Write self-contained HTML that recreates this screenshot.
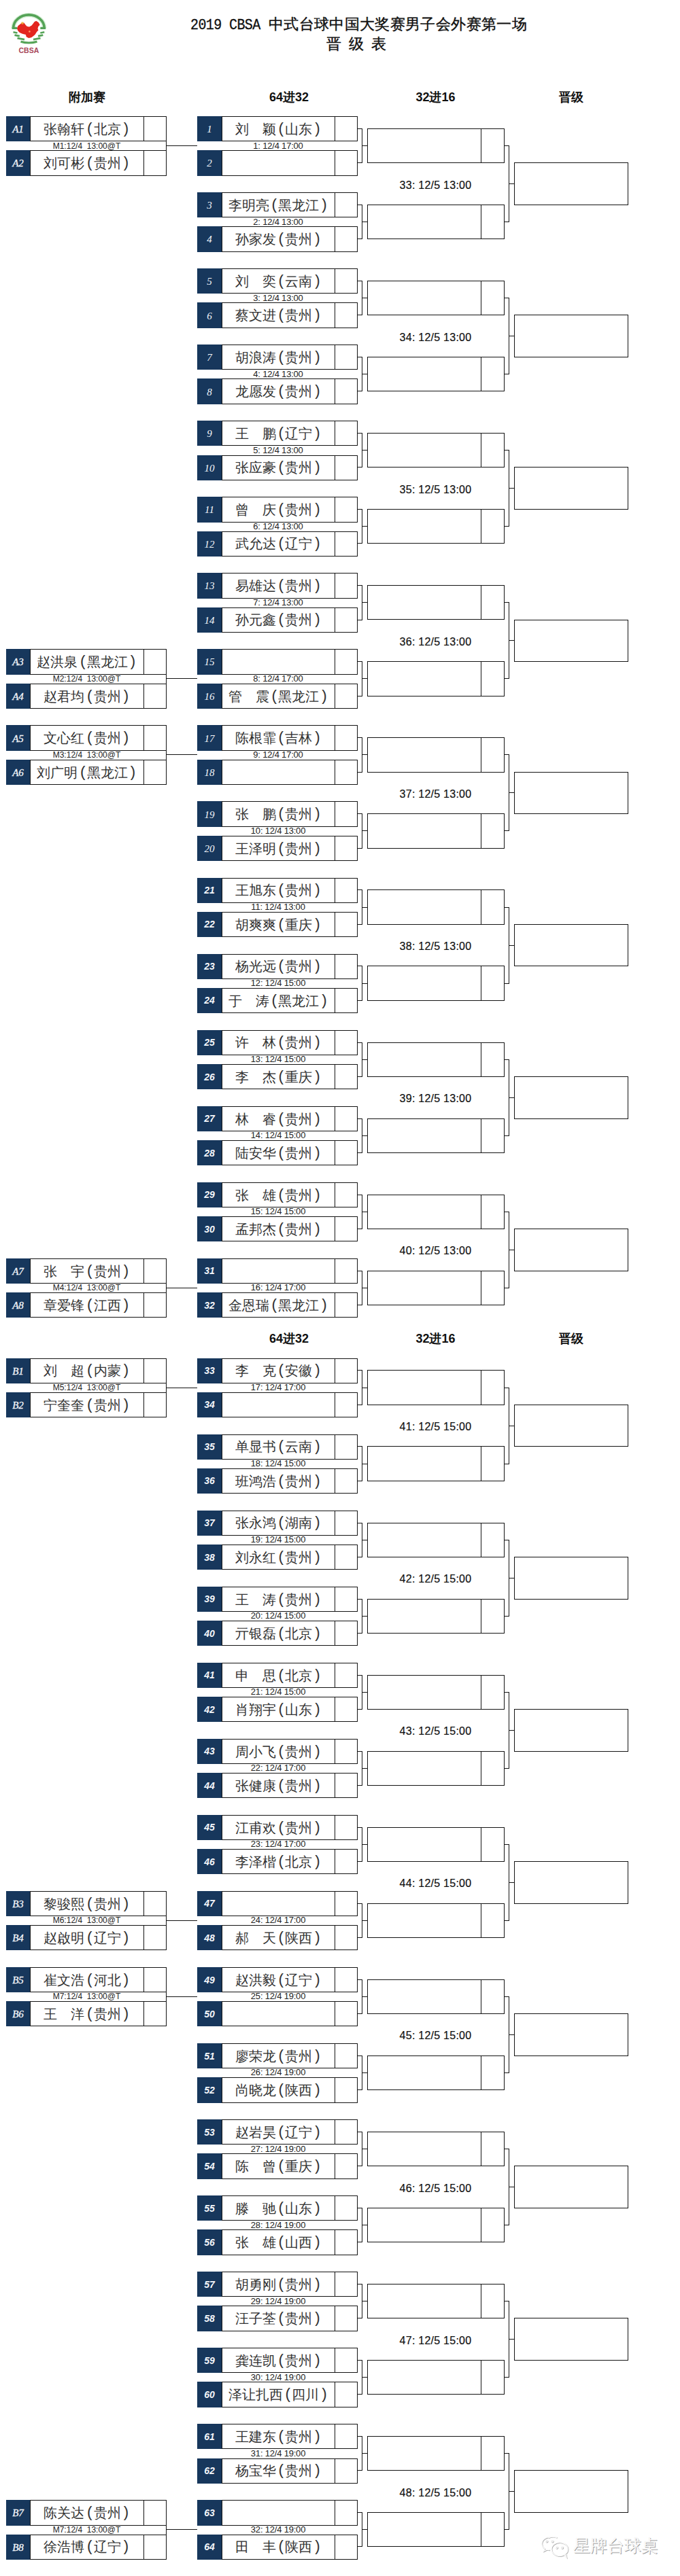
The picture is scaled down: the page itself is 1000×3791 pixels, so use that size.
<!DOCTYPE html>
<html><head><meta charset="utf-8"><title>bracket</title>
<style>
*{margin:0;padding:0}
html,body{width:1000px;height:3791px;background:#fff;overflow:hidden;position:relative}
body{font-family:"Liberation Sans",sans-serif;color:#1a1a1a}
div{position:absolute;box-sizing:border-box}
.hl{height:1px;background:#141414}
.vl{width:1px;background:#141414}
.bx{border:1px solid #141414}
.nv{background:#17375c;color:#f4f6fa;text-align:center;display:flex;align-items:center;justify-content:center}
.ls{font-family:"Liberation Serif",serif;font-style:italic;font-size:15px;padding-top:2px;-webkit-text-stroke:0.3px #f4f6fa}
.lr{font-family:"Liberation Serif",serif;font-style:italic;font-size:15px;padding-top:2px}
.lb{font-family:"Liberation Sans",sans-serif;font-style:italic;font-weight:bold;font-size:14px}
.nm{display:flex;align-items:center;justify-content:center;font-size:20px;color:#333;white-space:nowrap;padding-top:2px}
.nm i{font-style:normal;display:inline-block;text-align:center}
.nm .c{width:20px}
.nm .pl,.nm .pr{width:13.5px;font-family:"Liberation Mono",monospace;font-size:22px;position:relative}
.nm .pl{left:1.5px}.nm .pr{left:0.5px}
.hd{text-align:center;font-weight:bold;font-size:18px;line-height:22px;color:#111}
.inf{text-align:center;font-size:12px;line-height:14px;color:#222}
.i2{font-size:13px;letter-spacing:-0.2px}
.c3{text-align:center;font-size:16px;letter-spacing:0.25px;line-height:18px;color:#111;-webkit-text-stroke:0.2px #111}
.t1{left:280px;top:22px;-webkit-text-stroke:0.3px #111;font-size:22.4px;line-height:28px;white-space:nowrap;color:#111}
.t1 .lat{font-family:"Liberation Mono",monospace;font-size:20px;letter-spacing:-0.6px;display:inline-block;transform:scaleY(1.13);transform-origin:50% 70%}
.t1b{left:395px;top:22px;-webkit-text-stroke:0.4px #111;font-size:22px;letter-spacing:0.35px;line-height:28px;white-space:nowrap;color:#111}
.t2{top:51px;-webkit-text-stroke:0.4px #111;font-size:22.4px;line-height:28px;white-space:nowrap;color:#111}
.wm{font-size:25px;line-height:30px;color:#fbfbfb;text-shadow:1px 1px 0.6px #9c9c9c,-0.5px -0.5px 0.5px #dcdcdc;white-space:nowrap}
</style></head><body>
<svg width="90" height="90" viewBox="0 0 90 90" style="position:absolute;left:0;top:0">
<g>
<path d="M19.6 41.5 A22.8 19.6 0 0 1 65.2 41.5" fill="none" stroke="#d6efd6" stroke-width="6.5"/>
<g stroke="#55a357" fill="none">
<path d="M19.6 41.5 A22.8 19.6 0 0 1 65.2 41.5" stroke-width="3.6"/>
<path d="M17.6 41.4 H25.5 M59.3 41.4 H67.2" stroke-width="3.4"/>
<path d="M19.5 47.2 L25.5 48.4 M59.3 48.4 L65.3 47.2" stroke-width="2.6"/>
<path d="M21.5 51.6 L28.8 53.2 M56 53.2 L63.3 51.6" stroke-width="2.8"/>
<path d="M25.5 56.2 L36 58.2 M49 58.2 L59.5 56.2" stroke-width="2.8"/>
<path d="M30.5 61.2 Q42.4 65 54.5 61.2" stroke-width="3"/>
</g>
<path d="M25 42 L26.5 38 L29.5 35.8 L32 33.6 L35.3 33.4 L37.5 36.5 L39.6 38.7 L43 39.6 L46.5 37.5 L48.5 35 L50.7 32 L53.2 30.8 L56.7 33 L58.6 36.5 L56.2 39.2 L55.5 42 L56.4 44.5 L54 47 L51.5 51 L48.5 53.5 L46 55.2 L42.2 56 L38.7 54.2 L37.9 51 L33 49.8 L29 48 L26.5 45.5 Z" fill="#e3261f"/>
<circle cx="33" cy="34" r="2" fill="#f0c040" opacity="0.7"/>
<circle cx="43.4" cy="46.4" r="1.3" fill="#ff9a66"/>
</g>
<text x="42.4" y="78" text-anchor="middle" font-family="Liberation Sans" font-weight="bold" font-size="10.5px" fill="#a8475a">CBSA</text>
</svg>
<div class="t1"><span class="lat">2019 CBSA </span></div>
<div class="t1b">中式台球中国大奖赛男子会外赛第一场</div>
<div class="t2" style="left:480px">晋</div><div class="t2" style="left:513px">级</div><div class="t2" style="left:546px">表</div>
<div class="hd" style="left:28px;width:200px;top:131.50px">附加赛</div>
<div class="hd" style="left:325px;width:200px;top:131.50px">64进32</div>
<div class="hd" style="left:540px;width:201px;top:131.50px">32进16</div>
<div class="hd" style="left:756px;width:167px;top:131.50px">晋级</div>
<div class="nv" style="left:290.00px;top:171.00px;width:36.00px;height:37.30px"><span class="lr">1</span></div>
<div class="bx" style="left:325.50px;top:171.00px;width:200.00px;height:37.30px"></div>
<div class="vl" style="left:491.50px;top:171.00px;height:36.80px"></div>
<div class="nm" style="left:326.00px;top:171.00px;width:166.00px;height:36.80px"><i class="c">刘</i><i class="c">　</i><i class="c">颖</i><i class="pl">(</i><i class="c">山</i><i class="c">东</i><i class="pr">)</i></div>
<div class="nv" style="left:290.00px;top:221.30px;width:36.00px;height:37.30px"><span class="lr">2</span></div>
<div class="bx" style="left:325.50px;top:221.30px;width:200.00px;height:37.30px"></div>
<div class="vl" style="left:491.50px;top:221.30px;height:36.80px"></div>
<div class="nm" style="left:326.00px;top:221.30px;width:166.00px;height:36.80px"></div>
<div class="inf i2" style="left:326px;width:166px;top:207.50px">1: 12/4 17:00</div>
<div class="nv" style="left:9.00px;top:171.00px;width:35.00px;height:37.30px"><span class="ls">A1</span></div>
<div class="bx" style="left:43.50px;top:171.00px;width:201.00px;height:37.30px"></div>
<div class="vl" style="left:210.50px;top:171.00px;height:36.80px"></div>
<div class="nm" style="left:44.00px;top:171.00px;width:167.00px;height:36.80px"><i class="c">张</i><i class="c">翰</i><i class="c">轩</i><i class="pl">(</i><i class="c">北</i><i class="c">京</i><i class="pr">)</i></div>
<div class="nv" style="left:9.00px;top:221.30px;width:35.00px;height:37.30px"><span class="ls">A2</span></div>
<div class="bx" style="left:43.50px;top:221.30px;width:201.00px;height:37.30px"></div>
<div class="vl" style="left:210.50px;top:221.30px;height:36.80px"></div>
<div class="nm" style="left:44.00px;top:221.30px;width:167.00px;height:36.80px"><i class="c">刘</i><i class="c">可</i><i class="c">彬</i><i class="pl">(</i><i class="c">贵</i><i class="c">州</i><i class="pr">)</i></div>
<div class="vl" style="left:243.50px;top:207.80px;height:13.50px"></div>
<div class="hl" style="left:244.00px;top:214.00px;width:46.00px"></div>
<div class="inf" style="left:44px;width:167px;top:207.50px">M1:12/4&nbsp;&nbsp;13:00@T</div>
<div class="hl" style="left:525.00px;top:188.90px;width:7.50px"></div>
<div class="hl" style="left:525.00px;top:239.20px;width:7.50px"></div>
<div class="vl" style="left:532.00px;top:189.40px;height:50.30px"></div>
<div class="hl" style="left:532.50px;top:214.00px;width:7.50px"></div>
<div class="bx" style="left:539.5px;top:188.90px;width:202px;height:51.30px"></div>
<div class="vl" style="left:706.50px;top:189.40px;height:50.30px"></div>
<div class="nv" style="left:290.00px;top:283.05px;width:36.00px;height:37.30px"><span class="lr">3</span></div>
<div class="bx" style="left:325.50px;top:283.05px;width:200.00px;height:37.30px"></div>
<div class="vl" style="left:491.50px;top:283.05px;height:36.80px"></div>
<div class="nm" style="left:326.00px;top:283.05px;width:166.00px;height:36.80px"><i class="c">李</i><i class="c">明</i><i class="c">亮</i><i class="pl">(</i><i class="c">黑</i><i class="c">龙</i><i class="c">江</i><i class="pr">)</i></div>
<div class="nv" style="left:290.00px;top:333.35px;width:36.00px;height:37.30px"><span class="lr">4</span></div>
<div class="bx" style="left:325.50px;top:333.35px;width:200.00px;height:37.30px"></div>
<div class="vl" style="left:491.50px;top:333.35px;height:36.80px"></div>
<div class="nm" style="left:326.00px;top:333.35px;width:166.00px;height:36.80px"><i class="c">孙</i><i class="c">家</i><i class="c">发</i><i class="pl">(</i><i class="c">贵</i><i class="c">州</i><i class="pr">)</i></div>
<div class="inf i2" style="left:326px;width:166px;top:319.55px">2: 12/4 13:00</div>
<div class="hl" style="left:525.00px;top:300.95px;width:7.50px"></div>
<div class="hl" style="left:525.00px;top:351.25px;width:7.50px"></div>
<div class="vl" style="left:532.00px;top:301.45px;height:50.30px"></div>
<div class="hl" style="left:532.50px;top:326.05px;width:7.50px"></div>
<div class="bx" style="left:539.5px;top:300.95px;width:202px;height:51.30px"></div>
<div class="vl" style="left:706.50px;top:301.45px;height:50.30px"></div>
<div class="nv" style="left:290.00px;top:395.10px;width:36.00px;height:37.30px"><span class="lr">5</span></div>
<div class="bx" style="left:325.50px;top:395.10px;width:200.00px;height:37.30px"></div>
<div class="vl" style="left:491.50px;top:395.10px;height:36.80px"></div>
<div class="nm" style="left:326.00px;top:395.10px;width:166.00px;height:36.80px"><i class="c">刘</i><i class="c">　</i><i class="c">奕</i><i class="pl">(</i><i class="c">云</i><i class="c">南</i><i class="pr">)</i></div>
<div class="nv" style="left:290.00px;top:445.40px;width:36.00px;height:37.30px"><span class="lr">6</span></div>
<div class="bx" style="left:325.50px;top:445.40px;width:200.00px;height:37.30px"></div>
<div class="vl" style="left:491.50px;top:445.40px;height:36.80px"></div>
<div class="nm" style="left:326.00px;top:445.40px;width:166.00px;height:36.80px"><i class="c">蔡</i><i class="c">文</i><i class="c">进</i><i class="pl">(</i><i class="c">贵</i><i class="c">州</i><i class="pr">)</i></div>
<div class="inf i2" style="left:326px;width:166px;top:431.60px">3: 12/4 13:00</div>
<div class="hl" style="left:525.00px;top:413.00px;width:7.50px"></div>
<div class="hl" style="left:525.00px;top:463.30px;width:7.50px"></div>
<div class="vl" style="left:532.00px;top:413.50px;height:50.30px"></div>
<div class="hl" style="left:532.50px;top:438.10px;width:7.50px"></div>
<div class="bx" style="left:539.5px;top:413.00px;width:202px;height:51.30px"></div>
<div class="vl" style="left:706.50px;top:413.50px;height:50.30px"></div>
<div class="nv" style="left:290.00px;top:507.15px;width:36.00px;height:37.30px"><span class="lr">7</span></div>
<div class="bx" style="left:325.50px;top:507.15px;width:200.00px;height:37.30px"></div>
<div class="vl" style="left:491.50px;top:507.15px;height:36.80px"></div>
<div class="nm" style="left:326.00px;top:507.15px;width:166.00px;height:36.80px"><i class="c">胡</i><i class="c">浪</i><i class="c">涛</i><i class="pl">(</i><i class="c">贵</i><i class="c">州</i><i class="pr">)</i></div>
<div class="nv" style="left:290.00px;top:557.45px;width:36.00px;height:37.30px"><span class="lr">8</span></div>
<div class="bx" style="left:325.50px;top:557.45px;width:200.00px;height:37.30px"></div>
<div class="vl" style="left:491.50px;top:557.45px;height:36.80px"></div>
<div class="nm" style="left:326.00px;top:557.45px;width:166.00px;height:36.80px"><i class="c">龙</i><i class="c">愿</i><i class="c">发</i><i class="pl">(</i><i class="c">贵</i><i class="c">州</i><i class="pr">)</i></div>
<div class="inf i2" style="left:326px;width:166px;top:543.65px">4: 12/4 13:00</div>
<div class="hl" style="left:525.00px;top:525.05px;width:7.50px"></div>
<div class="hl" style="left:525.00px;top:575.35px;width:7.50px"></div>
<div class="vl" style="left:532.00px;top:525.55px;height:50.30px"></div>
<div class="hl" style="left:532.50px;top:550.15px;width:7.50px"></div>
<div class="bx" style="left:539.5px;top:525.05px;width:202px;height:51.30px"></div>
<div class="vl" style="left:706.50px;top:525.55px;height:50.30px"></div>
<div class="nv" style="left:290.00px;top:619.20px;width:36.00px;height:37.30px"><span class="lr">9</span></div>
<div class="bx" style="left:325.50px;top:619.20px;width:200.00px;height:37.30px"></div>
<div class="vl" style="left:491.50px;top:619.20px;height:36.80px"></div>
<div class="nm" style="left:326.00px;top:619.20px;width:166.00px;height:36.80px"><i class="c">王</i><i class="c">　</i><i class="c">鹏</i><i class="pl">(</i><i class="c">辽</i><i class="c">宁</i><i class="pr">)</i></div>
<div class="nv" style="left:290.00px;top:669.50px;width:36.00px;height:37.30px"><span class="lr">10</span></div>
<div class="bx" style="left:325.50px;top:669.50px;width:200.00px;height:37.30px"></div>
<div class="vl" style="left:491.50px;top:669.50px;height:36.80px"></div>
<div class="nm" style="left:326.00px;top:669.50px;width:166.00px;height:36.80px"><i class="c">张</i><i class="c">应</i><i class="c">豪</i><i class="pl">(</i><i class="c">贵</i><i class="c">州</i><i class="pr">)</i></div>
<div class="inf i2" style="left:326px;width:166px;top:655.70px">5: 12/4 13:00</div>
<div class="hl" style="left:525.00px;top:637.10px;width:7.50px"></div>
<div class="hl" style="left:525.00px;top:687.40px;width:7.50px"></div>
<div class="vl" style="left:532.00px;top:637.60px;height:50.30px"></div>
<div class="hl" style="left:532.50px;top:662.20px;width:7.50px"></div>
<div class="bx" style="left:539.5px;top:637.10px;width:202px;height:51.30px"></div>
<div class="vl" style="left:706.50px;top:637.60px;height:50.30px"></div>
<div class="nv" style="left:290.00px;top:731.25px;width:36.00px;height:37.30px"><span class="lr">11</span></div>
<div class="bx" style="left:325.50px;top:731.25px;width:200.00px;height:37.30px"></div>
<div class="vl" style="left:491.50px;top:731.25px;height:36.80px"></div>
<div class="nm" style="left:326.00px;top:731.25px;width:166.00px;height:36.80px"><i class="c">曾</i><i class="c">　</i><i class="c">庆</i><i class="pl">(</i><i class="c">贵</i><i class="c">州</i><i class="pr">)</i></div>
<div class="nv" style="left:290.00px;top:781.55px;width:36.00px;height:37.30px"><span class="lr">12</span></div>
<div class="bx" style="left:325.50px;top:781.55px;width:200.00px;height:37.30px"></div>
<div class="vl" style="left:491.50px;top:781.55px;height:36.80px"></div>
<div class="nm" style="left:326.00px;top:781.55px;width:166.00px;height:36.80px"><i class="c">武</i><i class="c">允</i><i class="c">达</i><i class="pl">(</i><i class="c">辽</i><i class="c">宁</i><i class="pr">)</i></div>
<div class="inf i2" style="left:326px;width:166px;top:767.75px">6: 12/4 13:00</div>
<div class="hl" style="left:525.00px;top:749.15px;width:7.50px"></div>
<div class="hl" style="left:525.00px;top:799.45px;width:7.50px"></div>
<div class="vl" style="left:532.00px;top:749.65px;height:50.30px"></div>
<div class="hl" style="left:532.50px;top:774.25px;width:7.50px"></div>
<div class="bx" style="left:539.5px;top:749.15px;width:202px;height:51.30px"></div>
<div class="vl" style="left:706.50px;top:749.65px;height:50.30px"></div>
<div class="nv" style="left:290.00px;top:843.30px;width:36.00px;height:37.30px"><span class="lr">13</span></div>
<div class="bx" style="left:325.50px;top:843.30px;width:200.00px;height:37.30px"></div>
<div class="vl" style="left:491.50px;top:843.30px;height:36.80px"></div>
<div class="nm" style="left:326.00px;top:843.30px;width:166.00px;height:36.80px"><i class="c">易</i><i class="c">雄</i><i class="c">达</i><i class="pl">(</i><i class="c">贵</i><i class="c">州</i><i class="pr">)</i></div>
<div class="nv" style="left:290.00px;top:893.60px;width:36.00px;height:37.30px"><span class="lr">14</span></div>
<div class="bx" style="left:325.50px;top:893.60px;width:200.00px;height:37.30px"></div>
<div class="vl" style="left:491.50px;top:893.60px;height:36.80px"></div>
<div class="nm" style="left:326.00px;top:893.60px;width:166.00px;height:36.80px"><i class="c">孙</i><i class="c">元</i><i class="c">鑫</i><i class="pl">(</i><i class="c">贵</i><i class="c">州</i><i class="pr">)</i></div>
<div class="inf i2" style="left:326px;width:166px;top:879.80px">7: 12/4 13:00</div>
<div class="hl" style="left:525.00px;top:861.20px;width:7.50px"></div>
<div class="hl" style="left:525.00px;top:911.50px;width:7.50px"></div>
<div class="vl" style="left:532.00px;top:861.70px;height:50.30px"></div>
<div class="hl" style="left:532.50px;top:886.30px;width:7.50px"></div>
<div class="bx" style="left:539.5px;top:861.20px;width:202px;height:51.30px"></div>
<div class="vl" style="left:706.50px;top:861.70px;height:50.30px"></div>
<div class="nv" style="left:290.00px;top:955.35px;width:36.00px;height:37.30px"><span class="lr">15</span></div>
<div class="bx" style="left:325.50px;top:955.35px;width:200.00px;height:37.30px"></div>
<div class="vl" style="left:491.50px;top:955.35px;height:36.80px"></div>
<div class="nm" style="left:326.00px;top:955.35px;width:166.00px;height:36.80px"></div>
<div class="nv" style="left:290.00px;top:1005.65px;width:36.00px;height:37.30px"><span class="lr">16</span></div>
<div class="bx" style="left:325.50px;top:1005.65px;width:200.00px;height:37.30px"></div>
<div class="vl" style="left:491.50px;top:1005.65px;height:36.80px"></div>
<div class="nm" style="left:326.00px;top:1005.65px;width:166.00px;height:36.80px"><i class="c">管</i><i class="c">　</i><i class="c">震</i><i class="pl">(</i><i class="c">黑</i><i class="c">龙</i><i class="c">江</i><i class="pr">)</i></div>
<div class="inf i2" style="left:326px;width:166px;top:991.85px">8: 12/4 17:00</div>
<div class="nv" style="left:9.00px;top:955.35px;width:35.00px;height:37.30px"><span class="ls">A3</span></div>
<div class="bx" style="left:43.50px;top:955.35px;width:201.00px;height:37.30px"></div>
<div class="vl" style="left:210.50px;top:955.35px;height:36.80px"></div>
<div class="nm" style="left:44.00px;top:955.35px;width:167.00px;height:36.80px"><i class="c">赵</i><i class="c">洪</i><i class="c">泉</i><i class="pl">(</i><i class="c">黑</i><i class="c">龙</i><i class="c">江</i><i class="pr">)</i></div>
<div class="nv" style="left:9.00px;top:1005.65px;width:35.00px;height:37.30px"><span class="ls">A4</span></div>
<div class="bx" style="left:43.50px;top:1005.65px;width:201.00px;height:37.30px"></div>
<div class="vl" style="left:210.50px;top:1005.65px;height:36.80px"></div>
<div class="nm" style="left:44.00px;top:1005.65px;width:167.00px;height:36.80px"><i class="c">赵</i><i class="c">君</i><i class="c">均</i><i class="pl">(</i><i class="c">贵</i><i class="c">州</i><i class="pr">)</i></div>
<div class="vl" style="left:243.50px;top:992.15px;height:13.50px"></div>
<div class="hl" style="left:244.00px;top:998.35px;width:46.00px"></div>
<div class="inf" style="left:44px;width:167px;top:991.85px">M2:12/4&nbsp;&nbsp;13:00@T</div>
<div class="hl" style="left:525.00px;top:973.25px;width:7.50px"></div>
<div class="hl" style="left:525.00px;top:1023.55px;width:7.50px"></div>
<div class="vl" style="left:532.00px;top:973.75px;height:50.30px"></div>
<div class="hl" style="left:532.50px;top:998.35px;width:7.50px"></div>
<div class="bx" style="left:539.5px;top:973.25px;width:202px;height:51.30px"></div>
<div class="vl" style="left:706.50px;top:973.75px;height:50.30px"></div>
<div class="nv" style="left:290.00px;top:1067.40px;width:36.00px;height:37.30px"><span class="lr">17</span></div>
<div class="bx" style="left:325.50px;top:1067.40px;width:200.00px;height:37.30px"></div>
<div class="vl" style="left:491.50px;top:1067.40px;height:36.80px"></div>
<div class="nm" style="left:326.00px;top:1067.40px;width:166.00px;height:36.80px"><i class="c">陈</i><i class="c">根</i><i class="c">霏</i><i class="pl">(</i><i class="c">吉</i><i class="c">林</i><i class="pr">)</i></div>
<div class="nv" style="left:290.00px;top:1117.70px;width:36.00px;height:37.30px"><span class="lr">18</span></div>
<div class="bx" style="left:325.50px;top:1117.70px;width:200.00px;height:37.30px"></div>
<div class="vl" style="left:491.50px;top:1117.70px;height:36.80px"></div>
<div class="nm" style="left:326.00px;top:1117.70px;width:166.00px;height:36.80px"></div>
<div class="inf i2" style="left:326px;width:166px;top:1103.90px">9: 12/4 17:00</div>
<div class="nv" style="left:9.00px;top:1067.40px;width:35.00px;height:37.30px"><span class="ls">A5</span></div>
<div class="bx" style="left:43.50px;top:1067.40px;width:201.00px;height:37.30px"></div>
<div class="vl" style="left:210.50px;top:1067.40px;height:36.80px"></div>
<div class="nm" style="left:44.00px;top:1067.40px;width:167.00px;height:36.80px"><i class="c">文</i><i class="c">心</i><i class="c">红</i><i class="pl">(</i><i class="c">贵</i><i class="c">州</i><i class="pr">)</i></div>
<div class="nv" style="left:9.00px;top:1117.70px;width:35.00px;height:37.30px"><span class="ls">A6</span></div>
<div class="bx" style="left:43.50px;top:1117.70px;width:201.00px;height:37.30px"></div>
<div class="vl" style="left:210.50px;top:1117.70px;height:36.80px"></div>
<div class="nm" style="left:44.00px;top:1117.70px;width:167.00px;height:36.80px"><i class="c">刘</i><i class="c">广</i><i class="c">明</i><i class="pl">(</i><i class="c">黑</i><i class="c">龙</i><i class="c">江</i><i class="pr">)</i></div>
<div class="vl" style="left:243.50px;top:1104.20px;height:13.50px"></div>
<div class="hl" style="left:244.00px;top:1110.40px;width:46.00px"></div>
<div class="inf" style="left:44px;width:167px;top:1103.90px">M3:12/4&nbsp;&nbsp;13:00@T</div>
<div class="hl" style="left:525.00px;top:1085.30px;width:7.50px"></div>
<div class="hl" style="left:525.00px;top:1135.60px;width:7.50px"></div>
<div class="vl" style="left:532.00px;top:1085.80px;height:50.30px"></div>
<div class="hl" style="left:532.50px;top:1110.40px;width:7.50px"></div>
<div class="bx" style="left:539.5px;top:1085.30px;width:202px;height:51.30px"></div>
<div class="vl" style="left:706.50px;top:1085.80px;height:50.30px"></div>
<div class="nv" style="left:290.00px;top:1179.45px;width:36.00px;height:37.30px"><span class="lr">19</span></div>
<div class="bx" style="left:325.50px;top:1179.45px;width:200.00px;height:37.30px"></div>
<div class="vl" style="left:491.50px;top:1179.45px;height:36.80px"></div>
<div class="nm" style="left:326.00px;top:1179.45px;width:166.00px;height:36.80px"><i class="c">张</i><i class="c">　</i><i class="c">鹏</i><i class="pl">(</i><i class="c">贵</i><i class="c">州</i><i class="pr">)</i></div>
<div class="nv" style="left:290.00px;top:1229.75px;width:36.00px;height:37.30px"><span class="lr">20</span></div>
<div class="bx" style="left:325.50px;top:1229.75px;width:200.00px;height:37.30px"></div>
<div class="vl" style="left:491.50px;top:1229.75px;height:36.80px"></div>
<div class="nm" style="left:326.00px;top:1229.75px;width:166.00px;height:36.80px"><i class="c">王</i><i class="c">泽</i><i class="c">明</i><i class="pl">(</i><i class="c">贵</i><i class="c">州</i><i class="pr">)</i></div>
<div class="inf i2" style="left:326px;width:166px;top:1215.95px">10: 12/4 13:00</div>
<div class="hl" style="left:525.00px;top:1197.35px;width:7.50px"></div>
<div class="hl" style="left:525.00px;top:1247.65px;width:7.50px"></div>
<div class="vl" style="left:532.00px;top:1197.85px;height:50.30px"></div>
<div class="hl" style="left:532.50px;top:1222.45px;width:7.50px"></div>
<div class="bx" style="left:539.5px;top:1197.35px;width:202px;height:51.30px"></div>
<div class="vl" style="left:706.50px;top:1197.85px;height:50.30px"></div>
<div class="nv" style="left:290.00px;top:1291.50px;width:36.00px;height:37.30px"><span class="lb">21</span></div>
<div class="bx" style="left:325.50px;top:1291.50px;width:200.00px;height:37.30px"></div>
<div class="vl" style="left:491.50px;top:1291.50px;height:36.80px"></div>
<div class="nm" style="left:326.00px;top:1291.50px;width:166.00px;height:36.80px"><i class="c">王</i><i class="c">旭</i><i class="c">东</i><i class="pl">(</i><i class="c">贵</i><i class="c">州</i><i class="pr">)</i></div>
<div class="nv" style="left:290.00px;top:1341.80px;width:36.00px;height:37.30px"><span class="lb">22</span></div>
<div class="bx" style="left:325.50px;top:1341.80px;width:200.00px;height:37.30px"></div>
<div class="vl" style="left:491.50px;top:1341.80px;height:36.80px"></div>
<div class="nm" style="left:326.00px;top:1341.80px;width:166.00px;height:36.80px"><i class="c">胡</i><i class="c">爽</i><i class="c">爽</i><i class="pl">(</i><i class="c">重</i><i class="c">庆</i><i class="pr">)</i></div>
<div class="inf i2" style="left:326px;width:166px;top:1328.00px">11: 12/4 13:00</div>
<div class="hl" style="left:525.00px;top:1309.40px;width:7.50px"></div>
<div class="hl" style="left:525.00px;top:1359.70px;width:7.50px"></div>
<div class="vl" style="left:532.00px;top:1309.90px;height:50.30px"></div>
<div class="hl" style="left:532.50px;top:1334.50px;width:7.50px"></div>
<div class="bx" style="left:539.5px;top:1309.40px;width:202px;height:51.30px"></div>
<div class="vl" style="left:706.50px;top:1309.90px;height:50.30px"></div>
<div class="nv" style="left:290.00px;top:1403.55px;width:36.00px;height:37.30px"><span class="lb">23</span></div>
<div class="bx" style="left:325.50px;top:1403.55px;width:200.00px;height:37.30px"></div>
<div class="vl" style="left:491.50px;top:1403.55px;height:36.80px"></div>
<div class="nm" style="left:326.00px;top:1403.55px;width:166.00px;height:36.80px"><i class="c">杨</i><i class="c">光</i><i class="c">远</i><i class="pl">(</i><i class="c">贵</i><i class="c">州</i><i class="pr">)</i></div>
<div class="nv" style="left:290.00px;top:1453.85px;width:36.00px;height:37.30px"><span class="lb">24</span></div>
<div class="bx" style="left:325.50px;top:1453.85px;width:200.00px;height:37.30px"></div>
<div class="vl" style="left:491.50px;top:1453.85px;height:36.80px"></div>
<div class="nm" style="left:326.00px;top:1453.85px;width:166.00px;height:36.80px"><i class="c">于</i><i class="c">　</i><i class="c">涛</i><i class="pl">(</i><i class="c">黑</i><i class="c">龙</i><i class="c">江</i><i class="pr">)</i></div>
<div class="inf i2" style="left:326px;width:166px;top:1440.05px">12: 12/4 15:00</div>
<div class="hl" style="left:525.00px;top:1421.45px;width:7.50px"></div>
<div class="hl" style="left:525.00px;top:1471.75px;width:7.50px"></div>
<div class="vl" style="left:532.00px;top:1421.95px;height:50.30px"></div>
<div class="hl" style="left:532.50px;top:1446.55px;width:7.50px"></div>
<div class="bx" style="left:539.5px;top:1421.45px;width:202px;height:51.30px"></div>
<div class="vl" style="left:706.50px;top:1421.95px;height:50.30px"></div>
<div class="nv" style="left:290.00px;top:1515.60px;width:36.00px;height:37.30px"><span class="lb">25</span></div>
<div class="bx" style="left:325.50px;top:1515.60px;width:200.00px;height:37.30px"></div>
<div class="vl" style="left:491.50px;top:1515.60px;height:36.80px"></div>
<div class="nm" style="left:326.00px;top:1515.60px;width:166.00px;height:36.80px"><i class="c">许</i><i class="c">　</i><i class="c">林</i><i class="pl">(</i><i class="c">贵</i><i class="c">州</i><i class="pr">)</i></div>
<div class="nv" style="left:290.00px;top:1565.90px;width:36.00px;height:37.30px"><span class="lb">26</span></div>
<div class="bx" style="left:325.50px;top:1565.90px;width:200.00px;height:37.30px"></div>
<div class="vl" style="left:491.50px;top:1565.90px;height:36.80px"></div>
<div class="nm" style="left:326.00px;top:1565.90px;width:166.00px;height:36.80px"><i class="c">李</i><i class="c">　</i><i class="c">杰</i><i class="pl">(</i><i class="c">重</i><i class="c">庆</i><i class="pr">)</i></div>
<div class="inf i2" style="left:326px;width:166px;top:1552.10px">13: 12/4 15:00</div>
<div class="hl" style="left:525.00px;top:1533.50px;width:7.50px"></div>
<div class="hl" style="left:525.00px;top:1583.80px;width:7.50px"></div>
<div class="vl" style="left:532.00px;top:1534.00px;height:50.30px"></div>
<div class="hl" style="left:532.50px;top:1558.60px;width:7.50px"></div>
<div class="bx" style="left:539.5px;top:1533.50px;width:202px;height:51.30px"></div>
<div class="vl" style="left:706.50px;top:1534.00px;height:50.30px"></div>
<div class="nv" style="left:290.00px;top:1627.65px;width:36.00px;height:37.30px"><span class="lb">27</span></div>
<div class="bx" style="left:325.50px;top:1627.65px;width:200.00px;height:37.30px"></div>
<div class="vl" style="left:491.50px;top:1627.65px;height:36.80px"></div>
<div class="nm" style="left:326.00px;top:1627.65px;width:166.00px;height:36.80px"><i class="c">林</i><i class="c">　</i><i class="c">睿</i><i class="pl">(</i><i class="c">贵</i><i class="c">州</i><i class="pr">)</i></div>
<div class="nv" style="left:290.00px;top:1677.95px;width:36.00px;height:37.30px"><span class="lb">28</span></div>
<div class="bx" style="left:325.50px;top:1677.95px;width:200.00px;height:37.30px"></div>
<div class="vl" style="left:491.50px;top:1677.95px;height:36.80px"></div>
<div class="nm" style="left:326.00px;top:1677.95px;width:166.00px;height:36.80px"><i class="c">陆</i><i class="c">安</i><i class="c">华</i><i class="pl">(</i><i class="c">贵</i><i class="c">州</i><i class="pr">)</i></div>
<div class="inf i2" style="left:326px;width:166px;top:1664.15px">14: 12/4 15:00</div>
<div class="hl" style="left:525.00px;top:1645.55px;width:7.50px"></div>
<div class="hl" style="left:525.00px;top:1695.85px;width:7.50px"></div>
<div class="vl" style="left:532.00px;top:1646.05px;height:50.30px"></div>
<div class="hl" style="left:532.50px;top:1670.65px;width:7.50px"></div>
<div class="bx" style="left:539.5px;top:1645.55px;width:202px;height:51.30px"></div>
<div class="vl" style="left:706.50px;top:1646.05px;height:50.30px"></div>
<div class="nv" style="left:290.00px;top:1739.70px;width:36.00px;height:37.30px"><span class="lb">29</span></div>
<div class="bx" style="left:325.50px;top:1739.70px;width:200.00px;height:37.30px"></div>
<div class="vl" style="left:491.50px;top:1739.70px;height:36.80px"></div>
<div class="nm" style="left:326.00px;top:1739.70px;width:166.00px;height:36.80px"><i class="c">张</i><i class="c">　</i><i class="c">雄</i><i class="pl">(</i><i class="c">贵</i><i class="c">州</i><i class="pr">)</i></div>
<div class="nv" style="left:290.00px;top:1790.00px;width:36.00px;height:37.30px"><span class="lb">30</span></div>
<div class="bx" style="left:325.50px;top:1790.00px;width:200.00px;height:37.30px"></div>
<div class="vl" style="left:491.50px;top:1790.00px;height:36.80px"></div>
<div class="nm" style="left:326.00px;top:1790.00px;width:166.00px;height:36.80px"><i class="c">孟</i><i class="c">邦</i><i class="c">杰</i><i class="pl">(</i><i class="c">贵</i><i class="c">州</i><i class="pr">)</i></div>
<div class="inf i2" style="left:326px;width:166px;top:1776.20px">15: 12/4 15:00</div>
<div class="hl" style="left:525.00px;top:1757.60px;width:7.50px"></div>
<div class="hl" style="left:525.00px;top:1807.90px;width:7.50px"></div>
<div class="vl" style="left:532.00px;top:1758.10px;height:50.30px"></div>
<div class="hl" style="left:532.50px;top:1782.70px;width:7.50px"></div>
<div class="bx" style="left:539.5px;top:1757.60px;width:202px;height:51.30px"></div>
<div class="vl" style="left:706.50px;top:1758.10px;height:50.30px"></div>
<div class="nv" style="left:290.00px;top:1851.75px;width:36.00px;height:37.30px"><span class="lb">31</span></div>
<div class="bx" style="left:325.50px;top:1851.75px;width:200.00px;height:37.30px"></div>
<div class="vl" style="left:491.50px;top:1851.75px;height:36.80px"></div>
<div class="nm" style="left:326.00px;top:1851.75px;width:166.00px;height:36.80px"></div>
<div class="nv" style="left:290.00px;top:1902.05px;width:36.00px;height:37.30px"><span class="lb">32</span></div>
<div class="bx" style="left:325.50px;top:1902.05px;width:200.00px;height:37.30px"></div>
<div class="vl" style="left:491.50px;top:1902.05px;height:36.80px"></div>
<div class="nm" style="left:326.00px;top:1902.05px;width:166.00px;height:36.80px"><i class="c">金</i><i class="c">恩</i><i class="c">瑞</i><i class="pl">(</i><i class="c">黑</i><i class="c">龙</i><i class="c">江</i><i class="pr">)</i></div>
<div class="inf i2" style="left:326px;width:166px;top:1888.25px">16: 12/4 17:00</div>
<div class="nv" style="left:9.00px;top:1851.75px;width:35.00px;height:37.30px"><span class="ls">A7</span></div>
<div class="bx" style="left:43.50px;top:1851.75px;width:201.00px;height:37.30px"></div>
<div class="vl" style="left:210.50px;top:1851.75px;height:36.80px"></div>
<div class="nm" style="left:44.00px;top:1851.75px;width:167.00px;height:36.80px"><i class="c">张</i><i class="c">　</i><i class="c">宇</i><i class="pl">(</i><i class="c">贵</i><i class="c">州</i><i class="pr">)</i></div>
<div class="nv" style="left:9.00px;top:1902.05px;width:35.00px;height:37.30px"><span class="ls">A8</span></div>
<div class="bx" style="left:43.50px;top:1902.05px;width:201.00px;height:37.30px"></div>
<div class="vl" style="left:210.50px;top:1902.05px;height:36.80px"></div>
<div class="nm" style="left:44.00px;top:1902.05px;width:167.00px;height:36.80px"><i class="c">章</i><i class="c">爱</i><i class="c">锋</i><i class="pl">(</i><i class="c">江</i><i class="c">西</i><i class="pr">)</i></div>
<div class="vl" style="left:243.50px;top:1888.55px;height:13.50px"></div>
<div class="hl" style="left:244.00px;top:1894.75px;width:46.00px"></div>
<div class="inf" style="left:44px;width:167px;top:1888.25px">M4:12/4&nbsp;&nbsp;13:00@T</div>
<div class="hl" style="left:525.00px;top:1869.65px;width:7.50px"></div>
<div class="hl" style="left:525.00px;top:1919.95px;width:7.50px"></div>
<div class="vl" style="left:532.00px;top:1870.15px;height:50.30px"></div>
<div class="hl" style="left:532.50px;top:1894.75px;width:7.50px"></div>
<div class="bx" style="left:539.5px;top:1869.65px;width:202px;height:51.30px"></div>
<div class="vl" style="left:706.50px;top:1870.15px;height:50.30px"></div>
<div class="hl" style="left:741.00px;top:214.00px;width:7.50px"></div>
<div class="hl" style="left:741.00px;top:326.05px;width:7.50px"></div>
<div class="vl" style="left:748.00px;top:214.50px;height:112.05px"></div>
<div class="hl" style="left:748.50px;top:270.02px;width:7.50px"></div>
<div class="bx" style="left:755.5px;top:239.20px;width:168px;height:62.75px"></div>
<div class="c3" style="left:540px;width:201px;top:263.52px">33: 12/5 13:00</div>
<div class="hl" style="left:741.00px;top:438.10px;width:7.50px"></div>
<div class="hl" style="left:741.00px;top:550.15px;width:7.50px"></div>
<div class="vl" style="left:748.00px;top:438.60px;height:112.05px"></div>
<div class="hl" style="left:748.50px;top:494.12px;width:7.50px"></div>
<div class="bx" style="left:755.5px;top:463.30px;width:168px;height:62.75px"></div>
<div class="c3" style="left:540px;width:201px;top:487.62px">34: 12/5 13:00</div>
<div class="hl" style="left:741.00px;top:662.20px;width:7.50px"></div>
<div class="hl" style="left:741.00px;top:774.25px;width:7.50px"></div>
<div class="vl" style="left:748.00px;top:662.70px;height:112.05px"></div>
<div class="hl" style="left:748.50px;top:718.23px;width:7.50px"></div>
<div class="bx" style="left:755.5px;top:687.40px;width:168px;height:62.75px"></div>
<div class="c3" style="left:540px;width:201px;top:711.73px">35: 12/5 13:00</div>
<div class="hl" style="left:741.00px;top:886.30px;width:7.50px"></div>
<div class="hl" style="left:741.00px;top:998.35px;width:7.50px"></div>
<div class="vl" style="left:748.00px;top:886.80px;height:112.05px"></div>
<div class="hl" style="left:748.50px;top:942.33px;width:7.50px"></div>
<div class="bx" style="left:755.5px;top:911.50px;width:168px;height:62.75px"></div>
<div class="c3" style="left:540px;width:201px;top:935.83px">36: 12/5 13:00</div>
<div class="hl" style="left:741.00px;top:1110.40px;width:7.50px"></div>
<div class="hl" style="left:741.00px;top:1222.45px;width:7.50px"></div>
<div class="vl" style="left:748.00px;top:1110.90px;height:112.05px"></div>
<div class="hl" style="left:748.50px;top:1166.42px;width:7.50px"></div>
<div class="bx" style="left:755.5px;top:1135.60px;width:168px;height:62.75px"></div>
<div class="c3" style="left:540px;width:201px;top:1159.92px">37: 12/5 13:00</div>
<div class="hl" style="left:741.00px;top:1334.50px;width:7.50px"></div>
<div class="hl" style="left:741.00px;top:1446.55px;width:7.50px"></div>
<div class="vl" style="left:748.00px;top:1335.00px;height:112.05px"></div>
<div class="hl" style="left:748.50px;top:1390.53px;width:7.50px"></div>
<div class="bx" style="left:755.5px;top:1359.70px;width:168px;height:62.75px"></div>
<div class="c3" style="left:540px;width:201px;top:1384.03px">38: 12/5 13:00</div>
<div class="hl" style="left:741.00px;top:1558.60px;width:7.50px"></div>
<div class="hl" style="left:741.00px;top:1670.65px;width:7.50px"></div>
<div class="vl" style="left:748.00px;top:1559.10px;height:112.05px"></div>
<div class="hl" style="left:748.50px;top:1614.62px;width:7.50px"></div>
<div class="bx" style="left:755.5px;top:1583.80px;width:168px;height:62.75px"></div>
<div class="c3" style="left:540px;width:201px;top:1608.12px">39: 12/5 13:00</div>
<div class="hl" style="left:741.00px;top:1782.70px;width:7.50px"></div>
<div class="hl" style="left:741.00px;top:1894.75px;width:7.50px"></div>
<div class="vl" style="left:748.00px;top:1783.20px;height:112.05px"></div>
<div class="hl" style="left:748.50px;top:1838.72px;width:7.50px"></div>
<div class="bx" style="left:755.5px;top:1807.90px;width:168px;height:62.75px"></div>
<div class="c3" style="left:540px;width:201px;top:1832.22px">40: 12/5 13:00</div>
<div class="hd" style="left:325px;width:200px;top:1959.00px">64进32</div>
<div class="hd" style="left:540px;width:201px;top:1959.00px">32进16</div>
<div class="hd" style="left:756px;width:167px;top:1959.00px">晋级</div>
<div class="nv" style="left:290.00px;top:1998.50px;width:36.00px;height:37.30px"><span class="lb">33</span></div>
<div class="bx" style="left:325.50px;top:1998.50px;width:200.00px;height:37.30px"></div>
<div class="vl" style="left:491.50px;top:1998.50px;height:36.80px"></div>
<div class="nm" style="left:326.00px;top:1998.50px;width:166.00px;height:36.80px"><i class="c">李</i><i class="c">　</i><i class="c">克</i><i class="pl">(</i><i class="c">安</i><i class="c">徽</i><i class="pr">)</i></div>
<div class="nv" style="left:290.00px;top:2048.80px;width:36.00px;height:37.30px"><span class="lb">34</span></div>
<div class="bx" style="left:325.50px;top:2048.80px;width:200.00px;height:37.30px"></div>
<div class="vl" style="left:491.50px;top:2048.80px;height:36.80px"></div>
<div class="nm" style="left:326.00px;top:2048.80px;width:166.00px;height:36.80px"></div>
<div class="inf i2" style="left:326px;width:166px;top:2035.00px">17: 12/4 17:00</div>
<div class="nv" style="left:9.00px;top:1998.50px;width:35.00px;height:37.30px"><span class="ls">B1</span></div>
<div class="bx" style="left:43.50px;top:1998.50px;width:201.00px;height:37.30px"></div>
<div class="vl" style="left:210.50px;top:1998.50px;height:36.80px"></div>
<div class="nm" style="left:44.00px;top:1998.50px;width:167.00px;height:36.80px"><i class="c">刘</i><i class="c">　</i><i class="c">超</i><i class="pl">(</i><i class="c">内</i><i class="c">蒙</i><i class="pr">)</i></div>
<div class="nv" style="left:9.00px;top:2048.80px;width:35.00px;height:37.30px"><span class="ls">B2</span></div>
<div class="bx" style="left:43.50px;top:2048.80px;width:201.00px;height:37.30px"></div>
<div class="vl" style="left:210.50px;top:2048.80px;height:36.80px"></div>
<div class="nm" style="left:44.00px;top:2048.80px;width:167.00px;height:36.80px"><i class="c">宁</i><i class="c">奎</i><i class="c">奎</i><i class="pl">(</i><i class="c">贵</i><i class="c">州</i><i class="pr">)</i></div>
<div class="vl" style="left:243.50px;top:2035.30px;height:13.50px"></div>
<div class="hl" style="left:244.00px;top:2041.50px;width:46.00px"></div>
<div class="inf" style="left:44px;width:167px;top:2035.00px">M5:12/4&nbsp;&nbsp;13:00@T</div>
<div class="hl" style="left:525.00px;top:2016.40px;width:7.50px"></div>
<div class="hl" style="left:525.00px;top:2066.70px;width:7.50px"></div>
<div class="vl" style="left:532.00px;top:2016.90px;height:50.30px"></div>
<div class="hl" style="left:532.50px;top:2041.50px;width:7.50px"></div>
<div class="bx" style="left:539.5px;top:2016.40px;width:202px;height:51.30px"></div>
<div class="vl" style="left:706.50px;top:2016.90px;height:50.30px"></div>
<div class="nv" style="left:290.00px;top:2110.55px;width:36.00px;height:37.30px"><span class="lb">35</span></div>
<div class="bx" style="left:325.50px;top:2110.55px;width:200.00px;height:37.30px"></div>
<div class="vl" style="left:491.50px;top:2110.55px;height:36.80px"></div>
<div class="nm" style="left:326.00px;top:2110.55px;width:166.00px;height:36.80px"><i class="c">单</i><i class="c">显</i><i class="c">书</i><i class="pl">(</i><i class="c">云</i><i class="c">南</i><i class="pr">)</i></div>
<div class="nv" style="left:290.00px;top:2160.85px;width:36.00px;height:37.30px"><span class="lb">36</span></div>
<div class="bx" style="left:325.50px;top:2160.85px;width:200.00px;height:37.30px"></div>
<div class="vl" style="left:491.50px;top:2160.85px;height:36.80px"></div>
<div class="nm" style="left:326.00px;top:2160.85px;width:166.00px;height:36.80px"><i class="c">班</i><i class="c">鸿</i><i class="c">浩</i><i class="pl">(</i><i class="c">贵</i><i class="c">州</i><i class="pr">)</i></div>
<div class="inf i2" style="left:326px;width:166px;top:2147.05px">18: 12/4 15:00</div>
<div class="hl" style="left:525.00px;top:2128.45px;width:7.50px"></div>
<div class="hl" style="left:525.00px;top:2178.75px;width:7.50px"></div>
<div class="vl" style="left:532.00px;top:2128.95px;height:50.30px"></div>
<div class="hl" style="left:532.50px;top:2153.55px;width:7.50px"></div>
<div class="bx" style="left:539.5px;top:2128.45px;width:202px;height:51.30px"></div>
<div class="vl" style="left:706.50px;top:2128.95px;height:50.30px"></div>
<div class="nv" style="left:290.00px;top:2222.60px;width:36.00px;height:37.30px"><span class="lb">37</span></div>
<div class="bx" style="left:325.50px;top:2222.60px;width:200.00px;height:37.30px"></div>
<div class="vl" style="left:491.50px;top:2222.60px;height:36.80px"></div>
<div class="nm" style="left:326.00px;top:2222.60px;width:166.00px;height:36.80px"><i class="c">张</i><i class="c">永</i><i class="c">鸿</i><i class="pl">(</i><i class="c">湖</i><i class="c">南</i><i class="pr">)</i></div>
<div class="nv" style="left:290.00px;top:2272.90px;width:36.00px;height:37.30px"><span class="lb">38</span></div>
<div class="bx" style="left:325.50px;top:2272.90px;width:200.00px;height:37.30px"></div>
<div class="vl" style="left:491.50px;top:2272.90px;height:36.80px"></div>
<div class="nm" style="left:326.00px;top:2272.90px;width:166.00px;height:36.80px"><i class="c">刘</i><i class="c">永</i><i class="c">红</i><i class="pl">(</i><i class="c">贵</i><i class="c">州</i><i class="pr">)</i></div>
<div class="inf i2" style="left:326px;width:166px;top:2259.10px">19: 12/4 15:00</div>
<div class="hl" style="left:525.00px;top:2240.50px;width:7.50px"></div>
<div class="hl" style="left:525.00px;top:2290.80px;width:7.50px"></div>
<div class="vl" style="left:532.00px;top:2241.00px;height:50.30px"></div>
<div class="hl" style="left:532.50px;top:2265.60px;width:7.50px"></div>
<div class="bx" style="left:539.5px;top:2240.50px;width:202px;height:51.30px"></div>
<div class="vl" style="left:706.50px;top:2241.00px;height:50.30px"></div>
<div class="nv" style="left:290.00px;top:2334.65px;width:36.00px;height:37.30px"><span class="lb">39</span></div>
<div class="bx" style="left:325.50px;top:2334.65px;width:200.00px;height:37.30px"></div>
<div class="vl" style="left:491.50px;top:2334.65px;height:36.80px"></div>
<div class="nm" style="left:326.00px;top:2334.65px;width:166.00px;height:36.80px"><i class="c">王</i><i class="c">　</i><i class="c">涛</i><i class="pl">(</i><i class="c">贵</i><i class="c">州</i><i class="pr">)</i></div>
<div class="nv" style="left:290.00px;top:2384.95px;width:36.00px;height:37.30px"><span class="lb">40</span></div>
<div class="bx" style="left:325.50px;top:2384.95px;width:200.00px;height:37.30px"></div>
<div class="vl" style="left:491.50px;top:2384.95px;height:36.80px"></div>
<div class="nm" style="left:326.00px;top:2384.95px;width:166.00px;height:36.80px"><i class="c">亓</i><i class="c">银</i><i class="c">磊</i><i class="pl">(</i><i class="c">北</i><i class="c">京</i><i class="pr">)</i></div>
<div class="inf i2" style="left:326px;width:166px;top:2371.15px">20: 12/4 15:00</div>
<div class="hl" style="left:525.00px;top:2352.55px;width:7.50px"></div>
<div class="hl" style="left:525.00px;top:2402.85px;width:7.50px"></div>
<div class="vl" style="left:532.00px;top:2353.05px;height:50.30px"></div>
<div class="hl" style="left:532.50px;top:2377.65px;width:7.50px"></div>
<div class="bx" style="left:539.5px;top:2352.55px;width:202px;height:51.30px"></div>
<div class="vl" style="left:706.50px;top:2353.05px;height:50.30px"></div>
<div class="nv" style="left:290.00px;top:2446.70px;width:36.00px;height:37.30px"><span class="lb">41</span></div>
<div class="bx" style="left:325.50px;top:2446.70px;width:200.00px;height:37.30px"></div>
<div class="vl" style="left:491.50px;top:2446.70px;height:36.80px"></div>
<div class="nm" style="left:326.00px;top:2446.70px;width:166.00px;height:36.80px"><i class="c">申</i><i class="c">　</i><i class="c">思</i><i class="pl">(</i><i class="c">北</i><i class="c">京</i><i class="pr">)</i></div>
<div class="nv" style="left:290.00px;top:2497.00px;width:36.00px;height:37.30px"><span class="lb">42</span></div>
<div class="bx" style="left:325.50px;top:2497.00px;width:200.00px;height:37.30px"></div>
<div class="vl" style="left:491.50px;top:2497.00px;height:36.80px"></div>
<div class="nm" style="left:326.00px;top:2497.00px;width:166.00px;height:36.80px"><i class="c">肖</i><i class="c">翔</i><i class="c">宇</i><i class="pl">(</i><i class="c">山</i><i class="c">东</i><i class="pr">)</i></div>
<div class="inf i2" style="left:326px;width:166px;top:2483.20px">21: 12/4 15:00</div>
<div class="hl" style="left:525.00px;top:2464.60px;width:7.50px"></div>
<div class="hl" style="left:525.00px;top:2514.90px;width:7.50px"></div>
<div class="vl" style="left:532.00px;top:2465.10px;height:50.30px"></div>
<div class="hl" style="left:532.50px;top:2489.70px;width:7.50px"></div>
<div class="bx" style="left:539.5px;top:2464.60px;width:202px;height:51.30px"></div>
<div class="vl" style="left:706.50px;top:2465.10px;height:50.30px"></div>
<div class="nv" style="left:290.00px;top:2558.75px;width:36.00px;height:37.30px"><span class="lb">43</span></div>
<div class="bx" style="left:325.50px;top:2558.75px;width:200.00px;height:37.30px"></div>
<div class="vl" style="left:491.50px;top:2558.75px;height:36.80px"></div>
<div class="nm" style="left:326.00px;top:2558.75px;width:166.00px;height:36.80px"><i class="c">周</i><i class="c">小</i><i class="c">飞</i><i class="pl">(</i><i class="c">贵</i><i class="c">州</i><i class="pr">)</i></div>
<div class="nv" style="left:290.00px;top:2609.05px;width:36.00px;height:37.30px"><span class="lb">44</span></div>
<div class="bx" style="left:325.50px;top:2609.05px;width:200.00px;height:37.30px"></div>
<div class="vl" style="left:491.50px;top:2609.05px;height:36.80px"></div>
<div class="nm" style="left:326.00px;top:2609.05px;width:166.00px;height:36.80px"><i class="c">张</i><i class="c">健</i><i class="c">康</i><i class="pl">(</i><i class="c">贵</i><i class="c">州</i><i class="pr">)</i></div>
<div class="inf i2" style="left:326px;width:166px;top:2595.25px">22: 12/4 17:00</div>
<div class="hl" style="left:525.00px;top:2576.65px;width:7.50px"></div>
<div class="hl" style="left:525.00px;top:2626.95px;width:7.50px"></div>
<div class="vl" style="left:532.00px;top:2577.15px;height:50.30px"></div>
<div class="hl" style="left:532.50px;top:2601.75px;width:7.50px"></div>
<div class="bx" style="left:539.5px;top:2576.65px;width:202px;height:51.30px"></div>
<div class="vl" style="left:706.50px;top:2577.15px;height:50.30px"></div>
<div class="nv" style="left:290.00px;top:2670.80px;width:36.00px;height:37.30px"><span class="lb">45</span></div>
<div class="bx" style="left:325.50px;top:2670.80px;width:200.00px;height:37.30px"></div>
<div class="vl" style="left:491.50px;top:2670.80px;height:36.80px"></div>
<div class="nm" style="left:326.00px;top:2670.80px;width:166.00px;height:36.80px"><i class="c">江</i><i class="c">甫</i><i class="c">欢</i><i class="pl">(</i><i class="c">贵</i><i class="c">州</i><i class="pr">)</i></div>
<div class="nv" style="left:290.00px;top:2721.10px;width:36.00px;height:37.30px"><span class="lb">46</span></div>
<div class="bx" style="left:325.50px;top:2721.10px;width:200.00px;height:37.30px"></div>
<div class="vl" style="left:491.50px;top:2721.10px;height:36.80px"></div>
<div class="nm" style="left:326.00px;top:2721.10px;width:166.00px;height:36.80px"><i class="c">李</i><i class="c">泽</i><i class="c">楷</i><i class="pl">(</i><i class="c">北</i><i class="c">京</i><i class="pr">)</i></div>
<div class="inf i2" style="left:326px;width:166px;top:2707.30px">23: 12/4 17:00</div>
<div class="hl" style="left:525.00px;top:2688.70px;width:7.50px"></div>
<div class="hl" style="left:525.00px;top:2739.00px;width:7.50px"></div>
<div class="vl" style="left:532.00px;top:2689.20px;height:50.30px"></div>
<div class="hl" style="left:532.50px;top:2713.80px;width:7.50px"></div>
<div class="bx" style="left:539.5px;top:2688.70px;width:202px;height:51.30px"></div>
<div class="vl" style="left:706.50px;top:2689.20px;height:50.30px"></div>
<div class="nv" style="left:290.00px;top:2782.85px;width:36.00px;height:37.30px"><span class="lb">47</span></div>
<div class="bx" style="left:325.50px;top:2782.85px;width:200.00px;height:37.30px"></div>
<div class="vl" style="left:491.50px;top:2782.85px;height:36.80px"></div>
<div class="nm" style="left:326.00px;top:2782.85px;width:166.00px;height:36.80px"></div>
<div class="nv" style="left:290.00px;top:2833.15px;width:36.00px;height:37.30px"><span class="lb">48</span></div>
<div class="bx" style="left:325.50px;top:2833.15px;width:200.00px;height:37.30px"></div>
<div class="vl" style="left:491.50px;top:2833.15px;height:36.80px"></div>
<div class="nm" style="left:326.00px;top:2833.15px;width:166.00px;height:36.80px"><i class="c">郝</i><i class="c">　</i><i class="c">天</i><i class="pl">(</i><i class="c">陕</i><i class="c">西</i><i class="pr">)</i></div>
<div class="inf i2" style="left:326px;width:166px;top:2819.35px">24: 12/4 17:00</div>
<div class="nv" style="left:9.00px;top:2782.85px;width:35.00px;height:37.30px"><span class="ls">B3</span></div>
<div class="bx" style="left:43.50px;top:2782.85px;width:201.00px;height:37.30px"></div>
<div class="vl" style="left:210.50px;top:2782.85px;height:36.80px"></div>
<div class="nm" style="left:44.00px;top:2782.85px;width:167.00px;height:36.80px"><i class="c">黎</i><i class="c">骏</i><i class="c">熙</i><i class="pl">(</i><i class="c">贵</i><i class="c">州</i><i class="pr">)</i></div>
<div class="nv" style="left:9.00px;top:2833.15px;width:35.00px;height:37.30px"><span class="ls">B4</span></div>
<div class="bx" style="left:43.50px;top:2833.15px;width:201.00px;height:37.30px"></div>
<div class="vl" style="left:210.50px;top:2833.15px;height:36.80px"></div>
<div class="nm" style="left:44.00px;top:2833.15px;width:167.00px;height:36.80px"><i class="c">赵</i><i class="c">啟</i><i class="c">明</i><i class="pl">(</i><i class="c">辽</i><i class="c">宁</i><i class="pr">)</i></div>
<div class="vl" style="left:243.50px;top:2819.65px;height:13.50px"></div>
<div class="hl" style="left:244.00px;top:2825.85px;width:46.00px"></div>
<div class="inf" style="left:44px;width:167px;top:2819.35px">M6:12/4&nbsp;&nbsp;13:00@T</div>
<div class="hl" style="left:525.00px;top:2800.75px;width:7.50px"></div>
<div class="hl" style="left:525.00px;top:2851.05px;width:7.50px"></div>
<div class="vl" style="left:532.00px;top:2801.25px;height:50.30px"></div>
<div class="hl" style="left:532.50px;top:2825.85px;width:7.50px"></div>
<div class="bx" style="left:539.5px;top:2800.75px;width:202px;height:51.30px"></div>
<div class="vl" style="left:706.50px;top:2801.25px;height:50.30px"></div>
<div class="nv" style="left:290.00px;top:2894.90px;width:36.00px;height:37.30px"><span class="lb">49</span></div>
<div class="bx" style="left:325.50px;top:2894.90px;width:200.00px;height:37.30px"></div>
<div class="vl" style="left:491.50px;top:2894.90px;height:36.80px"></div>
<div class="nm" style="left:326.00px;top:2894.90px;width:166.00px;height:36.80px"><i class="c">赵</i><i class="c">洪</i><i class="c">毅</i><i class="pl">(</i><i class="c">辽</i><i class="c">宁</i><i class="pr">)</i></div>
<div class="nv" style="left:290.00px;top:2945.20px;width:36.00px;height:37.30px"><span class="lb">50</span></div>
<div class="bx" style="left:325.50px;top:2945.20px;width:200.00px;height:37.30px"></div>
<div class="vl" style="left:491.50px;top:2945.20px;height:36.80px"></div>
<div class="nm" style="left:326.00px;top:2945.20px;width:166.00px;height:36.80px"></div>
<div class="inf i2" style="left:326px;width:166px;top:2931.40px">25: 12/4 19:00</div>
<div class="nv" style="left:9.00px;top:2894.90px;width:35.00px;height:37.30px"><span class="ls">B5</span></div>
<div class="bx" style="left:43.50px;top:2894.90px;width:201.00px;height:37.30px"></div>
<div class="vl" style="left:210.50px;top:2894.90px;height:36.80px"></div>
<div class="nm" style="left:44.00px;top:2894.90px;width:167.00px;height:36.80px"><i class="c">崔</i><i class="c">文</i><i class="c">浩</i><i class="pl">(</i><i class="c">河</i><i class="c">北</i><i class="pr">)</i></div>
<div class="nv" style="left:9.00px;top:2945.20px;width:35.00px;height:37.30px"><span class="ls">B6</span></div>
<div class="bx" style="left:43.50px;top:2945.20px;width:201.00px;height:37.30px"></div>
<div class="vl" style="left:210.50px;top:2945.20px;height:36.80px"></div>
<div class="nm" style="left:44.00px;top:2945.20px;width:167.00px;height:36.80px"><i class="c">王</i><i class="c">　</i><i class="c">洋</i><i class="pl">(</i><i class="c">贵</i><i class="c">州</i><i class="pr">)</i></div>
<div class="vl" style="left:243.50px;top:2931.70px;height:13.50px"></div>
<div class="hl" style="left:244.00px;top:2937.90px;width:46.00px"></div>
<div class="inf" style="left:44px;width:167px;top:2931.40px">M7:12/4&nbsp;&nbsp;13:00@T</div>
<div class="hl" style="left:525.00px;top:2912.80px;width:7.50px"></div>
<div class="hl" style="left:525.00px;top:2963.10px;width:7.50px"></div>
<div class="vl" style="left:532.00px;top:2913.30px;height:50.30px"></div>
<div class="hl" style="left:532.50px;top:2937.90px;width:7.50px"></div>
<div class="bx" style="left:539.5px;top:2912.80px;width:202px;height:51.30px"></div>
<div class="vl" style="left:706.50px;top:2913.30px;height:50.30px"></div>
<div class="nv" style="left:290.00px;top:3006.95px;width:36.00px;height:37.30px"><span class="lb">51</span></div>
<div class="bx" style="left:325.50px;top:3006.95px;width:200.00px;height:37.30px"></div>
<div class="vl" style="left:491.50px;top:3006.95px;height:36.80px"></div>
<div class="nm" style="left:326.00px;top:3006.95px;width:166.00px;height:36.80px"><i class="c">廖</i><i class="c">荣</i><i class="c">龙</i><i class="pl">(</i><i class="c">贵</i><i class="c">州</i><i class="pr">)</i></div>
<div class="nv" style="left:290.00px;top:3057.25px;width:36.00px;height:37.30px"><span class="lb">52</span></div>
<div class="bx" style="left:325.50px;top:3057.25px;width:200.00px;height:37.30px"></div>
<div class="vl" style="left:491.50px;top:3057.25px;height:36.80px"></div>
<div class="nm" style="left:326.00px;top:3057.25px;width:166.00px;height:36.80px"><i class="c">尚</i><i class="c">晓</i><i class="c">龙</i><i class="pl">(</i><i class="c">陕</i><i class="c">西</i><i class="pr">)</i></div>
<div class="inf i2" style="left:326px;width:166px;top:3043.45px">26: 12/4 19:00</div>
<div class="hl" style="left:525.00px;top:3024.85px;width:7.50px"></div>
<div class="hl" style="left:525.00px;top:3075.15px;width:7.50px"></div>
<div class="vl" style="left:532.00px;top:3025.35px;height:50.30px"></div>
<div class="hl" style="left:532.50px;top:3049.95px;width:7.50px"></div>
<div class="bx" style="left:539.5px;top:3024.85px;width:202px;height:51.30px"></div>
<div class="vl" style="left:706.50px;top:3025.35px;height:50.30px"></div>
<div class="nv" style="left:290.00px;top:3119.00px;width:36.00px;height:37.30px"><span class="lb">53</span></div>
<div class="bx" style="left:325.50px;top:3119.00px;width:200.00px;height:37.30px"></div>
<div class="vl" style="left:491.50px;top:3119.00px;height:36.80px"></div>
<div class="nm" style="left:326.00px;top:3119.00px;width:166.00px;height:36.80px"><i class="c">赵</i><i class="c">岩</i><i class="c">昊</i><i class="pl">(</i><i class="c">辽</i><i class="c">宁</i><i class="pr">)</i></div>
<div class="nv" style="left:290.00px;top:3169.30px;width:36.00px;height:37.30px"><span class="lb">54</span></div>
<div class="bx" style="left:325.50px;top:3169.30px;width:200.00px;height:37.30px"></div>
<div class="vl" style="left:491.50px;top:3169.30px;height:36.80px"></div>
<div class="nm" style="left:326.00px;top:3169.30px;width:166.00px;height:36.80px"><i class="c">陈</i><i class="c">　</i><i class="c">曾</i><i class="pl">(</i><i class="c">重</i><i class="c">庆</i><i class="pr">)</i></div>
<div class="inf i2" style="left:326px;width:166px;top:3155.50px">27: 12/4 19:00</div>
<div class="hl" style="left:525.00px;top:3136.90px;width:7.50px"></div>
<div class="hl" style="left:525.00px;top:3187.20px;width:7.50px"></div>
<div class="vl" style="left:532.00px;top:3137.40px;height:50.30px"></div>
<div class="hl" style="left:532.50px;top:3162.00px;width:7.50px"></div>
<div class="bx" style="left:539.5px;top:3136.90px;width:202px;height:51.30px"></div>
<div class="vl" style="left:706.50px;top:3137.40px;height:50.30px"></div>
<div class="nv" style="left:290.00px;top:3231.05px;width:36.00px;height:37.30px"><span class="lb">55</span></div>
<div class="bx" style="left:325.50px;top:3231.05px;width:200.00px;height:37.30px"></div>
<div class="vl" style="left:491.50px;top:3231.05px;height:36.80px"></div>
<div class="nm" style="left:326.00px;top:3231.05px;width:166.00px;height:36.80px"><i class="c">滕</i><i class="c">　</i><i class="c">驰</i><i class="pl">(</i><i class="c">山</i><i class="c">东</i><i class="pr">)</i></div>
<div class="nv" style="left:290.00px;top:3281.35px;width:36.00px;height:37.30px"><span class="lb">56</span></div>
<div class="bx" style="left:325.50px;top:3281.35px;width:200.00px;height:37.30px"></div>
<div class="vl" style="left:491.50px;top:3281.35px;height:36.80px"></div>
<div class="nm" style="left:326.00px;top:3281.35px;width:166.00px;height:36.80px"><i class="c">张</i><i class="c">　</i><i class="c">雄</i><i class="pl">(</i><i class="c">山</i><i class="c">西</i><i class="pr">)</i></div>
<div class="inf i2" style="left:326px;width:166px;top:3267.55px">28: 12/4 19:00</div>
<div class="hl" style="left:525.00px;top:3248.95px;width:7.50px"></div>
<div class="hl" style="left:525.00px;top:3299.25px;width:7.50px"></div>
<div class="vl" style="left:532.00px;top:3249.45px;height:50.30px"></div>
<div class="hl" style="left:532.50px;top:3274.05px;width:7.50px"></div>
<div class="bx" style="left:539.5px;top:3248.95px;width:202px;height:51.30px"></div>
<div class="vl" style="left:706.50px;top:3249.45px;height:50.30px"></div>
<div class="nv" style="left:290.00px;top:3343.10px;width:36.00px;height:37.30px"><span class="lb">57</span></div>
<div class="bx" style="left:325.50px;top:3343.10px;width:200.00px;height:37.30px"></div>
<div class="vl" style="left:491.50px;top:3343.10px;height:36.80px"></div>
<div class="nm" style="left:326.00px;top:3343.10px;width:166.00px;height:36.80px"><i class="c">胡</i><i class="c">勇</i><i class="c">刚</i><i class="pl">(</i><i class="c">贵</i><i class="c">州</i><i class="pr">)</i></div>
<div class="nv" style="left:290.00px;top:3393.40px;width:36.00px;height:37.30px"><span class="lb">58</span></div>
<div class="bx" style="left:325.50px;top:3393.40px;width:200.00px;height:37.30px"></div>
<div class="vl" style="left:491.50px;top:3393.40px;height:36.80px"></div>
<div class="nm" style="left:326.00px;top:3393.40px;width:166.00px;height:36.80px"><i class="c">汪</i><i class="c">子</i><i class="c">荃</i><i class="pl">(</i><i class="c">贵</i><i class="c">州</i><i class="pr">)</i></div>
<div class="inf i2" style="left:326px;width:166px;top:3379.60px">29: 12/4 19:00</div>
<div class="hl" style="left:525.00px;top:3361.00px;width:7.50px"></div>
<div class="hl" style="left:525.00px;top:3411.30px;width:7.50px"></div>
<div class="vl" style="left:532.00px;top:3361.50px;height:50.30px"></div>
<div class="hl" style="left:532.50px;top:3386.10px;width:7.50px"></div>
<div class="bx" style="left:539.5px;top:3361.00px;width:202px;height:51.30px"></div>
<div class="vl" style="left:706.50px;top:3361.50px;height:50.30px"></div>
<div class="nv" style="left:290.00px;top:3455.15px;width:36.00px;height:37.30px"><span class="lb">59</span></div>
<div class="bx" style="left:325.50px;top:3455.15px;width:200.00px;height:37.30px"></div>
<div class="vl" style="left:491.50px;top:3455.15px;height:36.80px"></div>
<div class="nm" style="left:326.00px;top:3455.15px;width:166.00px;height:36.80px"><i class="c">龚</i><i class="c">连</i><i class="c">凯</i><i class="pl">(</i><i class="c">贵</i><i class="c">州</i><i class="pr">)</i></div>
<div class="nv" style="left:290.00px;top:3505.45px;width:36.00px;height:37.30px"><span class="lb">60</span></div>
<div class="bx" style="left:325.50px;top:3505.45px;width:200.00px;height:37.30px"></div>
<div class="vl" style="left:491.50px;top:3505.45px;height:36.80px"></div>
<div class="nm" style="left:326.00px;top:3505.45px;width:166.00px;height:36.80px"><i class="c">泽</i><i class="c">让</i><i class="c">扎</i><i class="c">西</i><i class="pl">(</i><i class="c">四</i><i class="c">川</i><i class="pr">)</i></div>
<div class="inf i2" style="left:326px;width:166px;top:3491.65px">30: 12/4 19:00</div>
<div class="hl" style="left:525.00px;top:3473.05px;width:7.50px"></div>
<div class="hl" style="left:525.00px;top:3523.35px;width:7.50px"></div>
<div class="vl" style="left:532.00px;top:3473.55px;height:50.30px"></div>
<div class="hl" style="left:532.50px;top:3498.15px;width:7.50px"></div>
<div class="bx" style="left:539.5px;top:3473.05px;width:202px;height:51.30px"></div>
<div class="vl" style="left:706.50px;top:3473.55px;height:50.30px"></div>
<div class="nv" style="left:290.00px;top:3567.20px;width:36.00px;height:37.30px"><span class="lb">61</span></div>
<div class="bx" style="left:325.50px;top:3567.20px;width:200.00px;height:37.30px"></div>
<div class="vl" style="left:491.50px;top:3567.20px;height:36.80px"></div>
<div class="nm" style="left:326.00px;top:3567.20px;width:166.00px;height:36.80px"><i class="c">王</i><i class="c">建</i><i class="c">东</i><i class="pl">(</i><i class="c">贵</i><i class="c">州</i><i class="pr">)</i></div>
<div class="nv" style="left:290.00px;top:3617.50px;width:36.00px;height:37.30px"><span class="lb">62</span></div>
<div class="bx" style="left:325.50px;top:3617.50px;width:200.00px;height:37.30px"></div>
<div class="vl" style="left:491.50px;top:3617.50px;height:36.80px"></div>
<div class="nm" style="left:326.00px;top:3617.50px;width:166.00px;height:36.80px"><i class="c">杨</i><i class="c">宝</i><i class="c">华</i><i class="pl">(</i><i class="c">贵</i><i class="c">州</i><i class="pr">)</i></div>
<div class="inf i2" style="left:326px;width:166px;top:3603.70px">31: 12/4 19:00</div>
<div class="hl" style="left:525.00px;top:3585.10px;width:7.50px"></div>
<div class="hl" style="left:525.00px;top:3635.40px;width:7.50px"></div>
<div class="vl" style="left:532.00px;top:3585.60px;height:50.30px"></div>
<div class="hl" style="left:532.50px;top:3610.20px;width:7.50px"></div>
<div class="bx" style="left:539.5px;top:3585.10px;width:202px;height:51.30px"></div>
<div class="vl" style="left:706.50px;top:3585.60px;height:50.30px"></div>
<div class="nv" style="left:290.00px;top:3679.25px;width:36.00px;height:37.30px"><span class="lb">63</span></div>
<div class="bx" style="left:325.50px;top:3679.25px;width:200.00px;height:37.30px"></div>
<div class="vl" style="left:491.50px;top:3679.25px;height:36.80px"></div>
<div class="nm" style="left:326.00px;top:3679.25px;width:166.00px;height:36.80px"></div>
<div class="nv" style="left:290.00px;top:3729.55px;width:36.00px;height:37.30px"><span class="lb">64</span></div>
<div class="bx" style="left:325.50px;top:3729.55px;width:200.00px;height:37.30px"></div>
<div class="vl" style="left:491.50px;top:3729.55px;height:36.80px"></div>
<div class="nm" style="left:326.00px;top:3729.55px;width:166.00px;height:36.80px"><i class="c">田</i><i class="c">　</i><i class="c">丰</i><i class="pl">(</i><i class="c">陕</i><i class="c">西</i><i class="pr">)</i></div>
<div class="inf i2" style="left:326px;width:166px;top:3715.75px">32: 12/4 19:00</div>
<div class="nv" style="left:9.00px;top:3679.25px;width:35.00px;height:37.30px"><span class="ls">B7</span></div>
<div class="bx" style="left:43.50px;top:3679.25px;width:201.00px;height:37.30px"></div>
<div class="vl" style="left:210.50px;top:3679.25px;height:36.80px"></div>
<div class="nm" style="left:44.00px;top:3679.25px;width:167.00px;height:36.80px"><i class="c">陈</i><i class="c">关</i><i class="c">达</i><i class="pl">(</i><i class="c">贵</i><i class="c">州</i><i class="pr">)</i></div>
<div class="nv" style="left:9.00px;top:3729.55px;width:35.00px;height:37.30px"><span class="ls">B8</span></div>
<div class="bx" style="left:43.50px;top:3729.55px;width:201.00px;height:37.30px"></div>
<div class="vl" style="left:210.50px;top:3729.55px;height:36.80px"></div>
<div class="nm" style="left:44.00px;top:3729.55px;width:167.00px;height:36.80px"><i class="c">徐</i><i class="c">浩</i><i class="c">博</i><i class="pl">(</i><i class="c">辽</i><i class="c">宁</i><i class="pr">)</i></div>
<div class="vl" style="left:243.50px;top:3716.05px;height:13.50px"></div>
<div class="hl" style="left:244.00px;top:3722.25px;width:46.00px"></div>
<div class="inf" style="left:44px;width:167px;top:3715.75px">M7:12/4&nbsp;&nbsp;13:00@T</div>
<div class="hl" style="left:525.00px;top:3697.15px;width:7.50px"></div>
<div class="hl" style="left:525.00px;top:3747.45px;width:7.50px"></div>
<div class="vl" style="left:532.00px;top:3697.65px;height:50.30px"></div>
<div class="hl" style="left:532.50px;top:3722.25px;width:7.50px"></div>
<div class="bx" style="left:539.5px;top:3697.15px;width:202px;height:51.30px"></div>
<div class="vl" style="left:706.50px;top:3697.65px;height:50.30px"></div>
<div class="hl" style="left:741.00px;top:2041.50px;width:7.50px"></div>
<div class="hl" style="left:741.00px;top:2153.55px;width:7.50px"></div>
<div class="vl" style="left:748.00px;top:2042.00px;height:112.05px"></div>
<div class="hl" style="left:748.50px;top:2097.53px;width:7.50px"></div>
<div class="bx" style="left:755.5px;top:2066.70px;width:168px;height:62.75px"></div>
<div class="c3" style="left:540px;width:201px;top:2091.03px">41: 12/5 15:00</div>
<div class="hl" style="left:741.00px;top:2265.60px;width:7.50px"></div>
<div class="hl" style="left:741.00px;top:2377.65px;width:7.50px"></div>
<div class="vl" style="left:748.00px;top:2266.10px;height:112.05px"></div>
<div class="hl" style="left:748.50px;top:2321.62px;width:7.50px"></div>
<div class="bx" style="left:755.5px;top:2290.80px;width:168px;height:62.75px"></div>
<div class="c3" style="left:540px;width:201px;top:2315.12px">42: 12/5 15:00</div>
<div class="hl" style="left:741.00px;top:2489.70px;width:7.50px"></div>
<div class="hl" style="left:741.00px;top:2601.75px;width:7.50px"></div>
<div class="vl" style="left:748.00px;top:2490.20px;height:112.05px"></div>
<div class="hl" style="left:748.50px;top:2545.72px;width:7.50px"></div>
<div class="bx" style="left:755.5px;top:2514.90px;width:168px;height:62.75px"></div>
<div class="c3" style="left:540px;width:201px;top:2539.22px">43: 12/5 15:00</div>
<div class="hl" style="left:741.00px;top:2713.80px;width:7.50px"></div>
<div class="hl" style="left:741.00px;top:2825.85px;width:7.50px"></div>
<div class="vl" style="left:748.00px;top:2714.30px;height:112.05px"></div>
<div class="hl" style="left:748.50px;top:2769.82px;width:7.50px"></div>
<div class="bx" style="left:755.5px;top:2739.00px;width:168px;height:62.75px"></div>
<div class="c3" style="left:540px;width:201px;top:2763.32px">44: 12/5 15:00</div>
<div class="hl" style="left:741.00px;top:2937.90px;width:7.50px"></div>
<div class="hl" style="left:741.00px;top:3049.95px;width:7.50px"></div>
<div class="vl" style="left:748.00px;top:2938.40px;height:112.05px"></div>
<div class="hl" style="left:748.50px;top:2993.93px;width:7.50px"></div>
<div class="bx" style="left:755.5px;top:2963.10px;width:168px;height:62.75px"></div>
<div class="c3" style="left:540px;width:201px;top:2987.43px">45: 12/5 15:00</div>
<div class="hl" style="left:741.00px;top:3162.00px;width:7.50px"></div>
<div class="hl" style="left:741.00px;top:3274.05px;width:7.50px"></div>
<div class="vl" style="left:748.00px;top:3162.50px;height:112.05px"></div>
<div class="hl" style="left:748.50px;top:3218.03px;width:7.50px"></div>
<div class="bx" style="left:755.5px;top:3187.20px;width:168px;height:62.75px"></div>
<div class="c3" style="left:540px;width:201px;top:3211.53px">46: 12/5 15:00</div>
<div class="hl" style="left:741.00px;top:3386.10px;width:7.50px"></div>
<div class="hl" style="left:741.00px;top:3498.15px;width:7.50px"></div>
<div class="vl" style="left:748.00px;top:3386.60px;height:112.05px"></div>
<div class="hl" style="left:748.50px;top:3442.12px;width:7.50px"></div>
<div class="bx" style="left:755.5px;top:3411.30px;width:168px;height:62.75px"></div>
<div class="c3" style="left:540px;width:201px;top:3435.62px">47: 12/5 15:00</div>
<div class="hl" style="left:741.00px;top:3610.20px;width:7.50px"></div>
<div class="hl" style="left:741.00px;top:3722.25px;width:7.50px"></div>
<div class="vl" style="left:748.00px;top:3610.70px;height:112.05px"></div>
<div class="hl" style="left:748.50px;top:3666.22px;width:7.50px"></div>
<div class="bx" style="left:755.5px;top:3635.40px;width:168px;height:62.75px"></div>
<div class="c3" style="left:540px;width:201px;top:3659.72px">48: 12/5 15:00</div>
<svg width="48" height="40" viewBox="0 0 48 40" style="position:absolute;left:792px;top:3728px">
<g fill="none" stroke-width="1.4" stroke="#a9a9a9" transform="translate(0.7,0.7)">
<path d="M17 5.5 C10 5.5 4.8 10 4.8 15.5 C4.8 18.5 6.5 21 9 22.8 L7.6 26.5 L12.2 24.2 C13.5 24.6 15 24.8 16.5 24.8"/>
<path d="M27 6.5 C22.5 4.8 17.5 5 14.5 6.8"/>
<ellipse cx="31" cy="23.5" rx="12" ry="10"/>
<path d="M38 32 L41 35.5 L40.2 31"/>
<circle cx="11.8" cy="11.8" r="1.3"/><circle cx="20" cy="11.8" r="1.3"/>
<circle cx="26.6" cy="21" r="1.3"/><circle cx="34.6" cy="21" r="1.3"/>
</g>
<g fill="none" stroke-width="1.4" stroke="#fafafa">
<path d="M17 5.5 C10 5.5 4.8 10 4.8 15.5 C4.8 18.5 6.5 21 9 22.8 L7.6 26.5 L12.2 24.2 C13.5 24.6 15 24.8 16.5 24.8"/>
<path d="M27 6.5 C22.5 4.8 17.5 5 14.5 6.8"/>
<ellipse cx="31" cy="23.5" rx="12" ry="10"/>
<path d="M38 32 L41 35.5 L40.2 31"/>
<circle cx="11.8" cy="11.8" r="1.3"/><circle cx="20" cy="11.8" r="1.3"/>
<circle cx="26.6" cy="21" r="1.3"/><circle cx="34.6" cy="21" r="1.3"/>
</g>
</svg>
<div class="wm" style="left:843px;top:3731px">星牌台球桌</div>
</body></html>
